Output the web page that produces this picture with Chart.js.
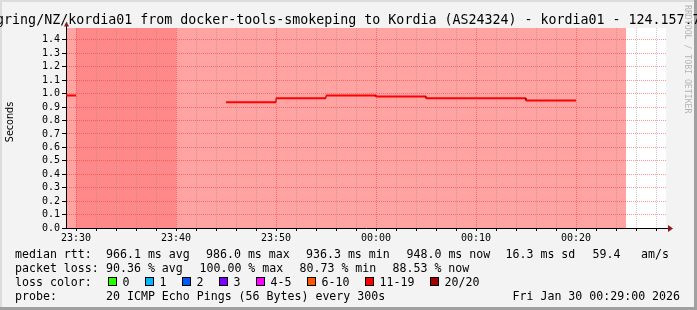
<!DOCTYPE html>
<html>
<head>
<meta charset="utf-8">
<script src="https://cdn.jsdelivr.net/npm/chart.js@4.4.1/dist/chart.umd.min.js"></script>
<style>
  html, body { margin: 0; padding: 0; background: #f3f3f3; }
  canvas { display: block; }
</style>
</head>
<body>
<canvas id="rtt" width="697" height="310"></canvas>
<script>
// ---------- DATA ----------
// x values are minutes after 23:00 (60 = 00:00)
var viewStart = 29, viewEnd = 89;
// each median value covers the 5 minutes ending at rttEnd
var rttEnd    = [30, 35, 40, 45, 50, 55, 60, 65, 70, 75, 80];
var rttMedian = [0.986, null, null, null, 0.9363, 0.966, 0.986, 0.978, 0.965, 0.965, 0.948];
// loss background bands
var bandStart = [25, 30, 40];
var bandEnd   = [30, 40, 85];
var bandShade = [0, 1, 0];
// grid every 2 min, labels every 10 min
var xMinorStep = 2, xMajorStep = 10;

var titleText = 'gring/NZ/kordia01 from docker-tools-smokeping to Kordia (AS24324) - kordia01 - 124.157.7';
var rttStats  = ['966.1 ms avg', '986.0 ms max', '936.3 ms min', '948.0 ms now', '16.3 ms sd', '59.4', 'am/s'];
var lossStats = ['90.36 % avg', '100.00 % max', '80.73 % min', '88.53 % now'];
var lossLabels = ['0', '1', '2', '3', '4-5', '6-10', '11-19', '20/20'];
var probeText = '20 ICMP Echo Pings (56 Bytes) every 300s';
var stampText = 'Fri Jan 30 00:29:00 2026';

// ---------- STYLE ----------
var shadeColors = ['#ffa3a3', '#ff8989'];
var lossColors = ['#26ff00', '#00b8ff', '#0059ff', '#7e00ff', '#ff00ff', '#ff5500', '#ff0000', '#a00000'];
var minorGrid = 'rgba(140,140,140,0.45)';
var majorGrid = 'rgba(255,40,40,0.5)';
var arrowColor = '#8b1a1a';
var MONO = '"DejaVu Sans Mono"';

Chart.defaults.font.family = MONO;
Chart.defaults.color = '#000';

function hhmm(v) {
  var h = (23 + Math.floor(v / 60)) % 24, m = v % 60;
  return (h < 10 ? '0' : '') + h + ':' + (m < 10 ? '0' : '') + m;
}

// turn the 5 min medians into flat steps
var linePts = [];
for (var i = 0; i < rttEnd.length; i++) {
  if (rttMedian[i] === null) {
    linePts.push({x: rttEnd[i], y: null});
    continue;
  }
  linePts.push({x: rttEnd[i] - 5, y: rttMedian[i]});
  linePts.push({x: rttEnd[i], y: rttMedian[i]});
}

var framePlugin = {
  id: 'frame',
  beforeDraw: function(chart) {
    var ctx = chart.ctx, a = chart.chartArea, xs = chart.scales.x;
    var W = chart.width, H = chart.height;
    ctx.save();
    ctx.fillStyle = '#f3f3f3';
    ctx.fillRect(0, 0, W, H);
    ctx.fillStyle = '#dcdcdc';
    ctx.fillRect(0, 0, W, 2);
    ctx.fillRect(0, 0, 2, H);
    ctx.fillStyle = '#a0a0a0';
    ctx.fillRect(W - 3, 0, 3, H);
    ctx.fillRect(0, H - 3, W, 3);
    ctx.fillStyle = '#ffffff';
    ctx.fillRect(a.left, a.top, a.right - a.left, a.bottom - a.top);
    // loss bands
    ctx.beginPath();
    ctx.rect(a.left, a.top, a.right - a.left, a.bottom - a.top);
    ctx.clip();
    for (var i = 0; i < bandStart.length; i++) {
      var x0 = xs.getPixelForValue(bandStart[i]);
      var x1 = xs.getPixelForValue(bandEnd[i]);
      ctx.fillStyle = shadeColors[bandShade[i]];
      ctx.fillRect(x0, a.top, x1 - x0, a.bottom - a.top);
    }
    ctx.restore();
  }
};

var textPlugin = {
  id: 'texts',
  afterDraw: function(chart) {
    var ctx = chart.ctx, a = chart.chartArea;
    ctx.save();
    // axis extensions and arrows
    ctx.strokeStyle = '#000';
    ctx.lineWidth = 1;
    ctx.beginPath();
    ctx.moveTo(a.left + 0.5, a.top);
    ctx.lineTo(a.left + 0.5, a.top - 3);
    ctx.moveTo(a.right, a.bottom + 0.5);
    ctx.lineTo(a.right + 3, a.bottom + 0.5);
    ctx.stroke();
    ctx.fillStyle = arrowColor;
    ctx.beginPath();
    ctx.moveTo(a.left - 2, a.top - 1.5);
    ctx.lineTo(a.left + 3, a.top - 1.5);
    ctx.lineTo(a.left + 0.5, a.top - 6.5);
    ctx.closePath();
    ctx.fill();
    ctx.beginPath();
    ctx.moveTo(a.right + 2, a.bottom - 3);
    ctx.lineTo(a.right + 2, a.bottom + 4);
    ctx.lineTo(a.right + 7, a.bottom + 0.5);
    ctx.closePath();
    ctx.fill();

    // title
    ctx.fillStyle = '#000';
    ctx.textAlign = 'left';
    ctx.textBaseline = 'alphabetic';
    ctx.font = '13.3px ' + MONO;
    ctx.fillText(titleText, -3.9, 24);

    // y axis unit
    ctx.save();
    ctx.translate(10.5, 122);
    ctx.rotate(-Math.PI / 2);
    ctx.textAlign = 'center';
    ctx.textBaseline = 'middle';
    ctx.font = '9.6px "DejaVu Sans"';
    ctx.fillText('Seconds', 0, 0);
    ctx.restore();

    // watermark
    ctx.save();
    ctx.translate(685, 5);
    ctx.rotate(Math.PI / 2);
    ctx.textAlign = 'left';
    ctx.textBaseline = 'alphabetic';
    ctx.font = '8.2px ' + MONO;
    ctx.fillStyle = '#b4b4b4';
    ctx.fillText('RRDTOOL / TOBI OETIKER', 0, 0);
    ctx.restore();

    // legend rows
    ctx.font = '11.6px ' + MONO;
    ctx.fillStyle = '#000';
    var rttX = [106, 206, 306, 406.5, 505.5, 592.5, 641];
    ctx.fillText('median rtt:', 15, 258);
    for (var i = 0; i < rttStats.length; i++) ctx.fillText(rttStats[i], rttX[i], 258);

    var lossX = [106, 199.5, 299.5, 392.5];
    ctx.fillText('packet loss:', 15, 272);
    for (i = 0; i < lossStats.length; i++) ctx.fillText(lossStats[i], lossX[i], 272);

    ctx.fillText('loss color:', 15, 286);
    var bx = 108;
    for (i = 0; i < lossLabels.length; i++) {
      ctx.fillStyle = lossColors[i];
      ctx.fillRect(bx, 277, 9, 9);
      ctx.strokeStyle = '#000';
      ctx.strokeRect(bx + 0.5, 277.5, 8, 8);
      ctx.fillStyle = '#000';
      ctx.fillText(lossLabels[i], bx + 14.5, 286);
      bx = Math.round(bx + 29.8 + ctx.measureText(lossLabels[i]).width);
    }

    ctx.fillText('probe:', 15, 300);
    ctx.fillText(probeText, 106, 300);
    ctx.fillText(stampText, 512.5, 300);
    ctx.restore();
  }
};

new Chart(document.getElementById('rtt'), {
  type: 'line',
  data: {
    datasets: [{
      data: linePts,
      borderColor: '#ff0000',
      borderWidth: 2,
      pointRadius: 0,
      spanGaps: false,
      tension: 0,
      clip: {left: 0, top: 5, right: 0, bottom: 5},
      segment: {
        borderColor: function(c) { return c.p0.x === c.p1.x ? '#7a0000' : undefined; },
        borderWidth: function(c) { return c.p0.x === c.p1.x ? 1 : undefined; }
      }
    }]
  },
  options: {
    responsive: false,
    animation: false,
    devicePixelRatio: 1,
    layout: { padding: { left: 0, right: 31, top: 28, bottom: 0 } },
    plugins: { legend: { display: false }, tooltip: { enabled: false } },
    scales: {
      x: {
        type: 'linear',
        min: viewStart,
        max: viewEnd,
        afterFit: function(s) { s.height = 82; },
        afterBuildTicks: function(s) {
          var t = [];
          var v0 = Math.ceil(viewStart / xMinorStep) * xMinorStep;
          for (var v = v0; v < viewEnd; v += xMinorStep) t.push({value: v});
          s.ticks = t;
        },
        ticks: {
          autoSkip: false,
          maxRotation: 0,
          padding: 1,
          font: { size: 10 },
          callback: function(v) { return v % xMajorStep === 0 ? hhmm(v) : ''; }
        },
        grid: {
          color: function(c) { return c.tick && c.tick.value % xMajorStep === 0 ? majorGrid : minorGrid; },
          tickLength: 3,
          tickColor: '#000'
        },
        border: { color: '#000', dash: [1, 1] }
      },
      y: {
        min: 0,
        max: 1.488,
        afterFit: function(s) { s.width = 66; },
        ticks: {
          stepSize: 0.1,
          maxTicksLimit: 30,
          includeBounds: false,
          autoSkip: false,
          padding: 2,
          font: { size: 10 },
          callback: function(v) { return v.toFixed(1); }
        },
        grid: { color: majorGrid, tickLength: 4, tickColor: '#000' },
        border: { color: '#000', dash: [1, 1] }
      }
    }
  },
  plugins: [framePlugin, textPlugin]
});
</script>
</body>
</html>
